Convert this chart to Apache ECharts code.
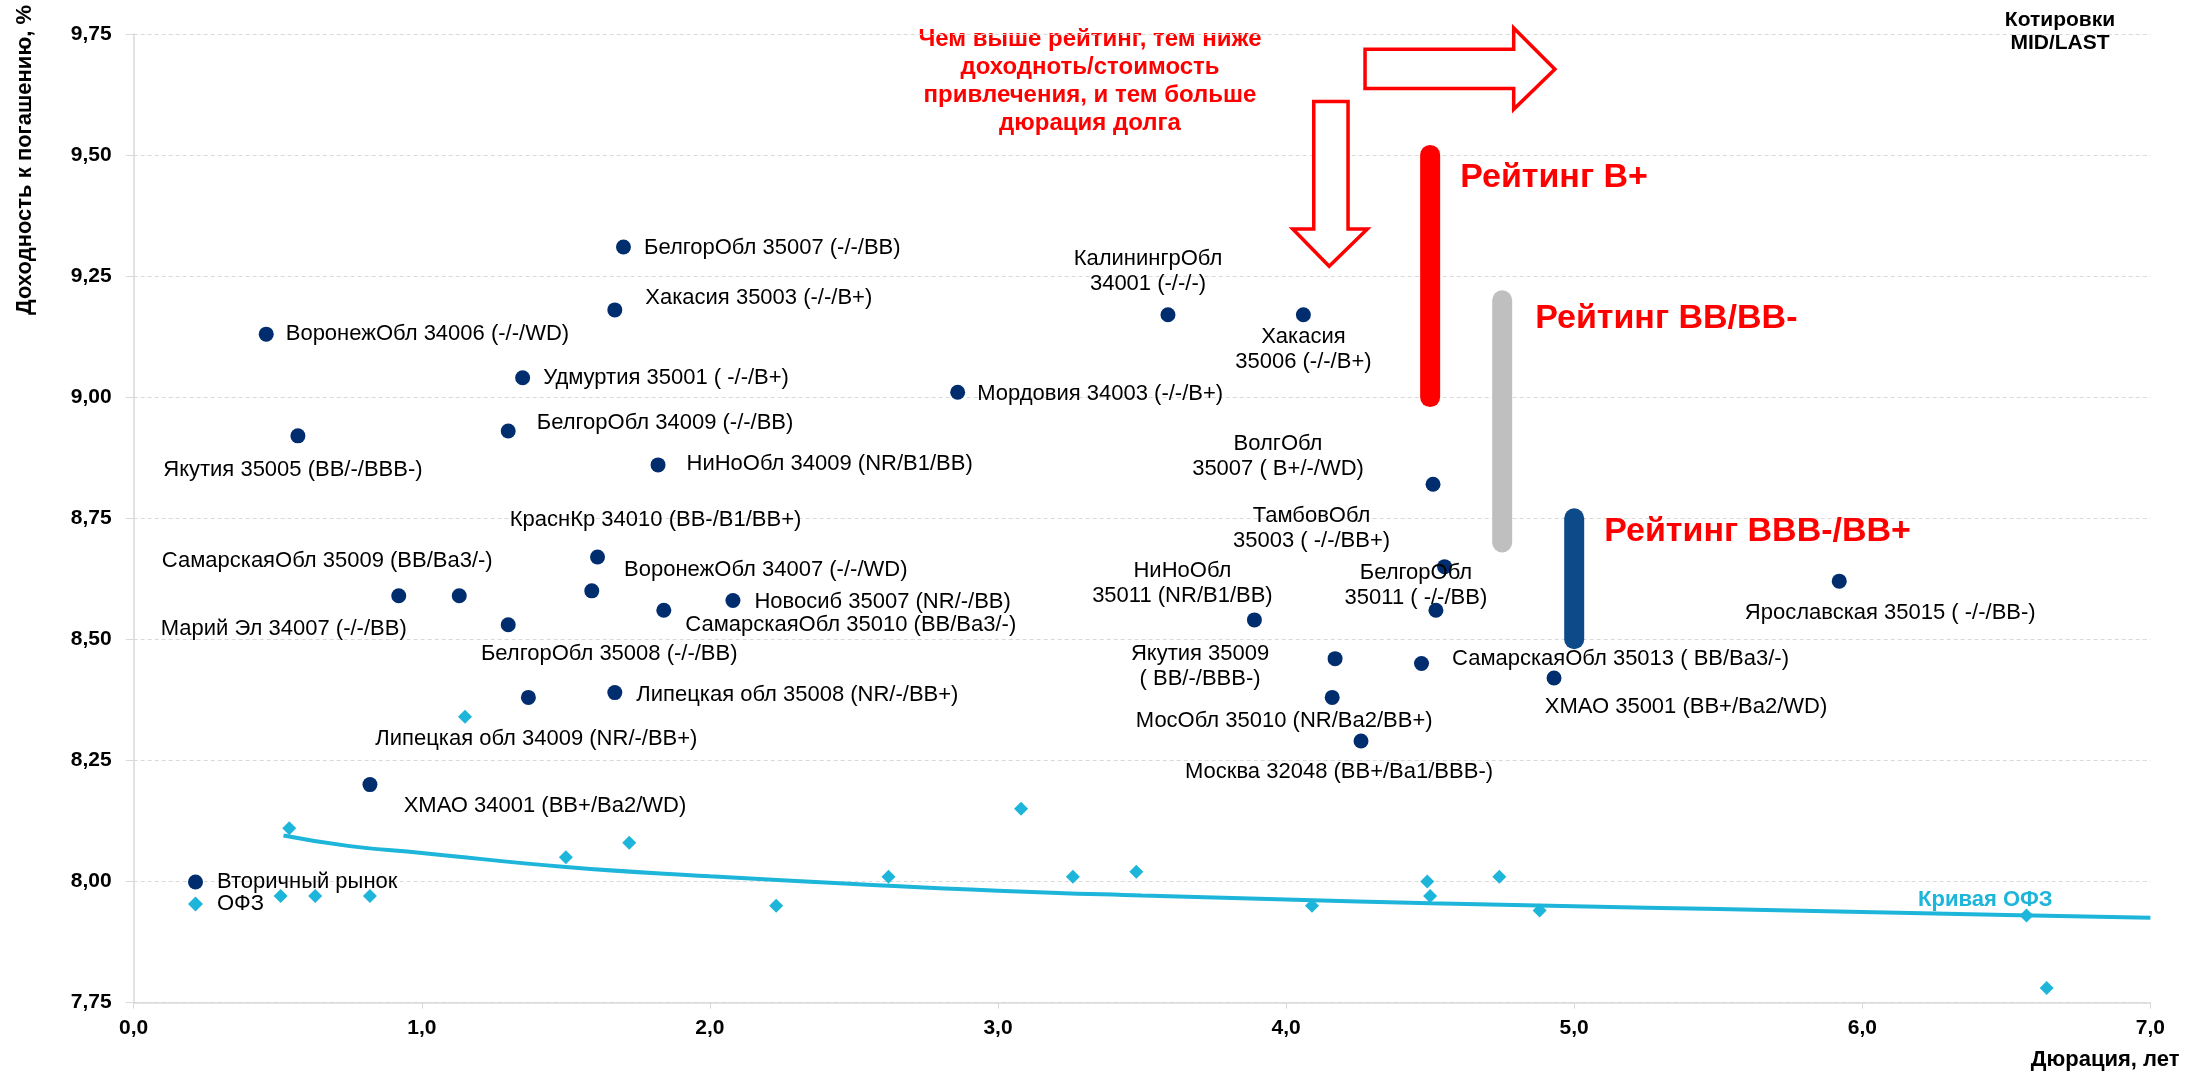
<!DOCTYPE html>
<html><head><meta charset="utf-8">
<script src="https://cdn.jsdelivr.net/npm/echarts@6/dist/echarts.min.js"></script>
<style>html,body{margin:0;padding:0;background:#fff}#c{width:2197px;height:1072px}</style>
</head><body><div id="c"></div>
<script>
// ---------- DATA ----------
const bondNames = [
  'ВоронежОбл 34006 (-/-/WD)',
  'Якутия 35005 (BB/-/BBB-)',
  'БелгорОбл 35007 (-/-/BB)',
  'Хакасия 35003 (-/-/B+)',
  'Удмуртия 35001 ( -/-/B+)',
  'БелгорОбл 34009 (-/-/BB)',
  'НиНоОбл 34009 (NR/B1/BB)',
  'Мордовия 34003 (-/-/B+)',
  'КалинингрОбл\n34001 (-/-/-)',
  'Хакасия\n35006 (-/-/B+)',
  'ВолгОбл\n35007 ( B+/-/WD)',
  'ТамбовОбл\n35003 ( -/-/BB+)',
  'БелгорОбл\n35011 ( -/-/BB)',
  'НиНоОбл\n35011 (NR/B1/BB)',
  'Якутия 35009\n( BB/-/BBB-)',
  'СамарскаяОбл 35013 ( BB/Ba3/-)',
  'МосОбл 35010 (NR/Ba2/BB+)',
  'Москва 32048 (BB+/Ba1/BBB-)',
  'ХМАО 35001 (BB+/Ba2/WD)',
  'Ярославская 35015 ( -/-/BB-)',
  'КраснКр 34010 (BB-/B1/BB+)',
  'ВоронежОбл 34007 (-/-/WD)',
  'Новосиб 35007 (NR/-/BB)',
  'СамарскаяОбл 35010 (BB/Ba3/-)',
  'БелгорОбл 35008 (-/-/BB)',
  'Марий Эл 34007 (-/-/BB)',
  'СамарскаяОбл 35009 (BB/Ba3/-)',
  'Липецкая обл 35008 (NR/-/BB+)',
  'Липецкая обл 34009 (NR/-/BB+)',
  'ХМАО 34001 (BB+/Ba2/WD)'
];
const bondDuration = [0.46,0.57,1.70,1.67,1.35,1.30,1.82,2.86,3.59,4.06,4.51,4.55,4.52,3.89,4.17,4.47,4.16,4.26,4.93,5.92,1.61,1.59,2.08,1.84,1.30,0.92,1.13,1.67,1.37,0.82];
const bondYield    = [9.13,8.92,9.31,9.18,9.04,8.93,8.86,9.01,9.17,9.17,8.82,8.65,8.56,8.54,8.46,8.45,8.38,8.29,8.42,8.62,8.67,8.60,8.58,8.56,8.53,8.59,8.59,8.39,8.38,8.20];

const ofzDuration = [0.54,0.51,0.63,0.82,1.15,1.50,1.72,2.23,2.62,3.08,3.26,3.48,4.09,4.49,4.50,4.74,4.88,6.57,6.64];
const ofzYield    = [8.11,7.97,7.97,7.97,8.34,8.05,8.08,7.95,8.01,8.15,8.01,8.02,7.95,8.00,7.97,8.01,7.94,7.93,7.78];

const curveDuration = [0.52,0.75,1.0,1.5,2.0,2.5,3.0,3.5,4.0,4.5,5.0,5.5,6.0,6.5,7.0];
const curveYield    = [8.095,8.073,8.059,8.030,8.011,7.995,7.981,7.971,7.963,7.955,7.949,7.943,7.937,7.931,7.925];

const ratingNames    = ['Рейтинг B+','Рейтинг BB/BB-','Рейтинг BBB-/BB+'];
const ratingDuration = [4.5,4.75,5.0];
const ratingHigh     = [9.5,9.2,8.75];
const ratingLow      = [9.0,8.7,8.5];

const xAxisMin = 0, xAxisMax = 7, xAxisStep = 1;
const yAxisMin = 7.75, yAxisMax = 9.75, yAxisStep = 0.25;

// ---------- LAYOUT / STYLE (not data) ----------
// ['r', distance, dy]  -> text to the right of the dot
// ['c', dx, dy]        -> text block centred at dot + (dx,dy)
const bondLabelLayout = [
  ['r',12,0],['c',-5,34],['r',13,1],['r',23,-12],['r',13,0],['r',21,-8],['r',21,-1],['r',12,2],
  ['c',-20,-43],['c',0,35],['c',-155,-28],['c',-133,-38],['c',-20,-25],['c',-72,-36],['c',-135,8],
  ['r',23,-5],['c',-48,24],['c',-22,31],['c',132,29],['c',51,32],['c',58,-37],['c',174,-21],
  ['r',14,1],['c',187,15],['c',101,29],['c',-115,33],['c',-132,-35],['r',14,2],['c',8,42],['c',175,21]
];
const ratingColors = ['#ff0000','#bfbfbf','#0d4a8a'];
const ratingLabelLayout = [[30,23],[33,18],[30,13]];
const FONT = '"Liberation Sans", Arial, Helvetica, sans-serif';
const NAVY = '#002d6e', CYAN = '#1db5d9';

const chart = echarts.init(document.getElementById('c'));

function bondLabel(i){
  const L = bondLabelLayout[i];
  const base = {show:true, formatter:'{b}', color:'#000', fontSize:22, fontFamily:FONT, lineHeight:25};
  if (L[0]==='r') return Object.assign(base,{position:'right', distance:L[1], offset:[0,L[2]]});
  return Object.assign(base,{position:'inside', offset:[L[1],L[2]], align:'center', verticalAlign:'middle'});
}

const bondData = bondNames.map((n,i)=>({name:n, value:[bondDuration[i],bondYield[i]], label:bondLabel(i)}));
const ofzData = ofzDuration.map((d,i)=>[d,ofzYield[i]]);
const curveData = curveDuration.map((d,i)=>{
  const item = {value:[d,curveYield[i]]};
  if (d===6.5) item.label = {show:true, formatter:'Кривая ОФЗ', position:'top', distance:4, offset:[-21,0],
    color:CYAN, fontSize:22, fontWeight:'bold', fontFamily:FONT};
  return item;
});

const ratingSeries = ratingNames.map((n,i)=>({
  type:'line', name:n, silent:true, z:3,
  symbol:'circle', symbolSize:0, showSymbol:true,
  lineStyle:{color:ratingColors[i], width:20, cap:'round'},
  itemStyle:{color:ratingColors[i]},
  data:[
    {value:[ratingDuration[i],ratingHigh[i]], label:{show:true, formatter:n, position:'right',
      distance:ratingLabelLayout[i][0], offset:[0,ratingLabelLayout[i][1]], color:'#ff0000',
      fontSize:34, fontWeight:'bold', fontFamily:FONT}},
    {value:[ratingDuration[i],ratingLow[i]]}
  ]
}));

const fmt = (d)=> (v)=> v.toFixed(d).replace('.',',');

chart.setOption({
  animation:false,
  backgroundColor:'#fff',
  textStyle:{fontFamily:FONT},
  grid:{left:133.7, right:46.6, top:33.8, bottom:69.4},
  legend:{
    data:['Вторичный рынок','ОФЗ'], orient:'vertical', left:183, top:866,
    itemWidth:15, itemHeight:15, itemGap:0,
    textStyle:{fontSize:22, color:'#000', fontFamily:FONT, lineHeight:20, padding:[0,0,0,9]}
  },
  xAxis:{
    type:'value', min:xAxisMin, max:xAxisMax, interval:xAxisStep,
    name:'Дюрация, лет', nameLocation:'end', nameGap:29,
    nameTextStyle:{align:'right', verticalAlign:'top', padding:[46,0,0,0], fontWeight:'bold', fontSize:22, color:'#000', fontFamily:FONT},
    axisLine:{show:true, lineStyle:{color:'#d9d9d9', width:1.5}},
    axisTick:{show:true, length:6, lineStyle:{color:'#d9d9d9'}},
    axisLabel:{formatter:fmt(1), fontWeight:'bold', fontSize:21, color:'#000', margin:15, fontFamily:FONT},
    splitLine:{show:false}
  },
  yAxis:{
    type:'value', min:yAxisMin, max:yAxisMax, interval:yAxisStep,
    axisLine:{show:true, lineStyle:{color:'#d9d9d9', width:1.5}},
    axisTick:{show:true, length:8, lineStyle:{color:'#d9d9d9'}},
    axisLabel:{formatter:fmt(2), fontWeight:'bold', fontSize:21, color:'#000', margin:22, fontFamily:FONT},
    splitLine:{show:true, lineStyle:{color:'#d9d9d9', type:[4,3], width:1}}
  },
  graphic:[
    {id:'yname', type:'text', x:24.5, y:160, rotation:Math.PI/2,
      style:{text:'Доходность к погашению, %', font:'bold 22px '+FONT, fill:'#000', align:'center', verticalAlign:'middle'}},
    {id:'quotes', type:'text', x:2060, y:8.5,
      style:{text:'Котировки\nMID/LAST', font:'bold 21px '+FONT, fill:'#000', align:'center', verticalAlign:'top', lineHeight:23}},
    {id:'note', type:'text', x:1090, y:25,
      style:{text:'Чем выше рейтинг, тем ниже\nдоходноть/стоимость\nпривлечения, и тем больше\nдюрация долга',
        font:'bold 24px '+FONT, fill:'#ff0000', align:'center', verticalAlign:'top', lineHeight:28}}
  ],
  series:[
    {type:'line', name:'Кривая ОФЗ', smooth:true, symbol:'circle', symbolSize:0, showSymbol:true, z:2,
      lineStyle:{color:CYAN, width:4}, itemStyle:{color:CYAN}, data:curveData},
    ...ratingSeries,
    {type:'scatter', name:'ОФЗ', symbol:'diamond', symbolSize:14, z:4, itemStyle:{color:CYAN, opacity:1}, data:ofzData},
    {type:'scatter', name:'Вторичный рынок', symbol:'circle', symbolSize:15, z:5, itemStyle:{color:NAVY, opacity:1}, data:bondData}
  ]
});

// ---------- annotation arrows (outline), placed in data space ----------
const rightArrow = [[4.274,9.718],[4.79,9.718],[4.79,9.762],[4.933,9.677],[4.79,9.594],[4.79,9.637],[4.274,9.637]];
const downArrow  = [[4.096,9.61],[4.215,9.61],[4.215,9.347],[4.282,9.347],[4.1495,9.27],[4.023,9.347],[4.096,9.347]];
const toPx = (pts)=> pts.map(p=>chart.convertToPixel({gridIndex:0}, p));
chart.setOption({graphic:[
  {id:'arrowRight', type:'polygon', z:10, shape:{points:toPx(rightArrow)}, style:{fill:'#fff', stroke:'#ff0000', lineWidth:3.5, lineJoin:'miter'}},
  {id:'arrowDown', type:'polygon', z:10, shape:{points:toPx(downArrow)}, style:{fill:'#fff', stroke:'#ff0000', lineWidth:3.5, lineJoin:'miter'}}
]});
</script></body></html>
